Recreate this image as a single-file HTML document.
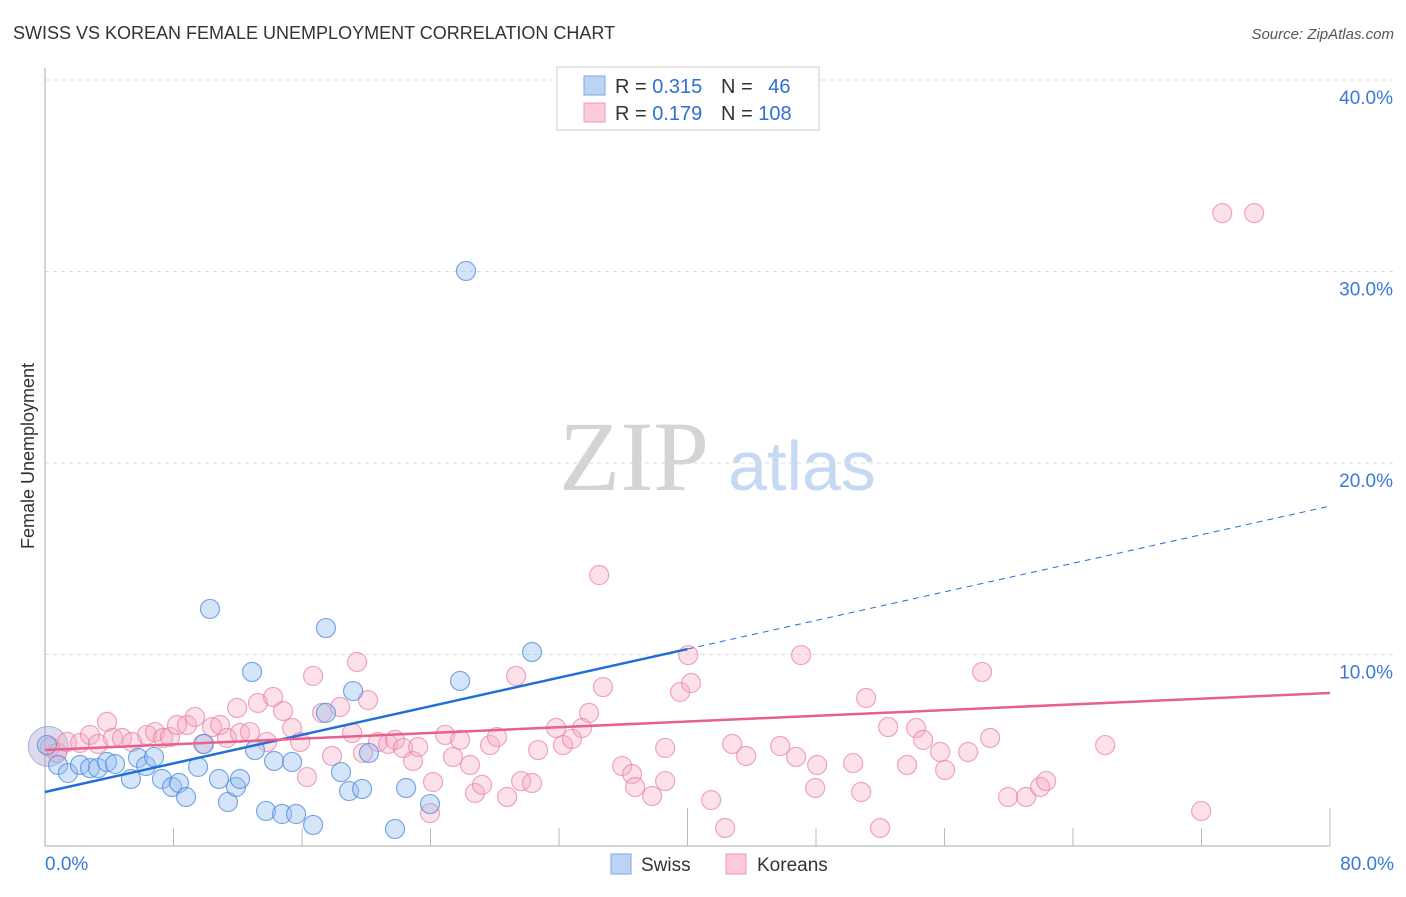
<!DOCTYPE html>
<html><head><meta charset="utf-8"><style>
body{margin:0;background:#fff;font-family:"Liberation Sans",sans-serif}
</style></head><body>
<svg id="chart" width="1406" height="892" font-family="Liberation Sans, sans-serif">
<text x="13" y="39" font-size="18" fill="#333">SWISS VS KOREAN FEMALE UNEMPLOYMENT CORRELATION CHART</text>
<text x="1394" y="39" font-size="15" fill="#555" font-style="italic" text-anchor="end">Source: ZipAtlas.com</text>
<text x="634" y="490" font-size="100" fill="#d4d4d4" style="font-family:'Liberation Serif',serif" text-anchor="middle">ZIP</text>
<text x="802" y="490" font-size="70" fill="#c6d8f2" text-anchor="middle">atlas</text>
<text transform="translate(34,456) rotate(-90)" font-size="18" fill="#333" text-anchor="middle">Female Unemployment</text>
<g id="grid"></g><g id="ticks"></g><g id="pts"></g><g id="lines"></g>
<g>
<rect x="557" y="67" width="262" height="63" fill="#fff" stroke="#ccc"/>
<rect x="584" y="76" width="21" height="19" fill="#bcd4f3" stroke="#7aa7e0"/>
<rect x="584" y="103" width="21" height="19" fill="#fbcbd9" stroke="#eb9ab4"/>
<text x="615" y="93" font-size="20" fill="#333">R = <tspan fill="#2f6fd6">0.315</tspan></text>
<text x="721" y="93" font-size="20" fill="#333">N = <tspan fill="#2f6fd6" dx="10">46</tspan></text>
<text x="615" y="120" font-size="20" fill="#333">R = <tspan fill="#2f6fd6">0.179</tspan></text>
<text x="721" y="120" font-size="20" fill="#333">N = <tspan fill="#2f6fd6">108</tspan></text>
</g>
<g>
<rect x="611" y="854" width="20" height="20" fill="#bcd4f3" stroke="#7aa7e0"/>
<text x="641" y="871" font-size="19" fill="#333">Swiss</text>
<rect x="726" y="854" width="20" height="20" fill="#fbcbd9" stroke="#eb9ab4"/>
<text x="757" y="871" font-size="19" fill="#333">Koreans</text>
</g>
</svg>
<script>
const yTicks=[10,20,30,40];
const yTickLabels=["10.0%","20.0%","30.0%","40.0%"];
const xTickLabels=["0.0%","80.0%"];
const swissX=[0.12,0.81,1.43,2.18,2.80,3.30,3.86,4.36,5.35,5.79,6.29,6.79,7.28,7.91,8.34,8.78,9.53,9.90,10.27,10.83,11.39,11.89,12.14,12.89,13.07,13.76,14.26,14.76,15.38,15.63,16.69,17.49,17.49,18.43,18.93,19.18,19.74,20.17,21.79,22.48,23.97,25.84,26.21,30.32];
const swissY=[5.27,4.23,3.81,4.23,4.07,4.07,4.39,4.28,3.50,4.60,4.18,4.65,3.50,3.08,3.29,2.56,4.13,5.33,12.38,3.50,2.30,3.08,3.50,9.09,5.01,1.83,4.44,1.67,4.39,1.67,1.10,6.95,11.38,3.86,2.87,8.09,2.98,4.86,0.89,3.03,2.19,8.62,30.03,10.13];
const korX=[0.31,0.75,1.37,2.18,2.80,3.30,3.86,4.23,4.79,5.42,6.35,6.85,7.35,7.78,8.22,8.84,9.34,9.84,10.40,10.90,11.33,11.96,12.14,12.76,13.26,13.82,14.20,14.82,15.38,15.88,16.31,16.69,17.25,17.87,18.37,19.12,19.43,19.80,20.11,20.73,21.36,21.79,22.29,22.91,23.23,24.16,23.97,24.91,25.84,25.40,26.46,26.77,27.21,27.71,28.14,28.77,29.33,29.64,30.32,30.70,31.82,32.25,32.81,33.44,33.87,34.50,34.74,35.93,36.55,36.74,37.80,38.61,38.61,39.54,40.04,40.22,41.47,42.34,42.78,43.65,45.77,46.76,47.07,47.95,48.07,50.31,50.81,51.12,51.99,52.49,53.67,54.23,54.67,55.73,56.04,57.47,58.34,58.84,59.96,61.08,61.95,62.33,66.00,71.98,73.29,75.28];
const korY=[5.17,4.86,5.43,5.38,5.80,5.33,6.48,5.64,5.64,5.43,5.80,5.95,5.64,5.69,6.32,6.32,6.74,5.33,6.21,6.32,5.64,7.21,5.90,5.95,7.47,5.43,7.78,7.05,6.16,5.43,3.60,8.88,6.95,4.70,7.26,5.90,9.61,4.86,7.62,5.43,5.33,5.54,5.12,4.44,5.17,3.34,1.72,5.80,5.54,4.65,4.23,2.77,3.19,5.27,5.69,2.56,8.88,3.39,3.29,5.01,6.16,5.27,5.59,6.16,6.95,14.15,8.30,4.18,3.76,3.08,2.61,5.12,3.39,8.04,9.97,8.51,2.40,0.94,5.33,4.70,5.22,4.65,9.97,3.03,4.23,4.33,2.82,7.73,0.94,6.21,4.23,6.16,5.54,4.91,3.97,4.91,9.09,5.64,2.56,2.56,3.08,3.39,5.27,1.83,33.05,33.05];
const swissTrend=[2.82,17.75];
const korTrend=[5.01,7.99];
const NS="http://www.w3.org/2000/svg";
const X=v=>45+v*(1285/80), Y=v=>846-v*19.15;
function mk(t,a,p){const e=document.createElementNS(NS,t);for(const k in a)e.setAttribute(k,a[k]);p.appendChild(e);return e;}
const grid=document.getElementById('grid'),ticks=document.getElementById('ticks'),pts=document.getElementById('pts'),lines=document.getElementById('lines');
yTicks.forEach((v,i)=>{
 const l=mk('line',{x1:45,x2:1394,y1:Y(v),y2:Y(v),stroke:'#ddd','stroke-dasharray':'4,4'},grid);
 
 
 const t=mk('text',{x:1393,y:Y(v)+24,'font-size':19,fill:'#3b78d8','text-anchor':'end'},grid);t.textContent=yTickLabels[i];
 
 
});
const ax=mk('line',{x1:45,x2:45,y1:68,y2:846,stroke:'#aaa'},ticks);


const bx=mk('line',{x1:45,x2:1330,y1:846,y2:846,stroke:'#aaa'},ticks);


for(let i=1;i<=10;i++){const v=i*8;const tl=mk('line',{x1:X(v),x2:X(v),y1:(i%5==0)?808:828,y2:846,stroke:'#bbb'},ticks);
 
 }
[[0,'start',45],[80,'end',1394]].forEach((d,i)=>{const t=mk('text',{x:d[2],y:870,'font-size':19,fill:'#3b78d8','text-anchor':d[1]},ticks);t.textContent=xTickLabels[i];
 
 });
const big=mk('circle',{cx:X(0.2),cy:Y(5.2),r:20,fill:'rgba(160,150,200,0.35)',stroke:'rgba(110,150,220,0.6)'},pts);


korX.forEach((v,i)=>{const c=mk('circle',{cx:X(v),cy:Y(korY[i]),r:9.5,fill:'rgba(246,170,195,0.35)',stroke:'rgba(232,130,165,0.7)','stroke-width':1.2},pts);
 
 });
swissX.forEach((v,i)=>{const c=mk('circle',{cx:X(v),cy:Y(swissY[i]),r:9.5,fill:'rgba(150,190,240,0.4)',stroke:'rgba(80,140,220,0.75)','stroke-width':1.2},pts);
 
 });
const sy=x=>swissTrend[0]+(swissTrend[1]-swissTrend[0])*x/80, ky=x=>korTrend[0]+(korTrend[1]-korTrend[0])*x/80;
const l1=mk('line',{x1:X(0),y1:Y(sy(0)),x2:X(40),y2:Y(sy(40)),stroke:'#1f6fd6','stroke-width':2.5},lines);


const l2=mk('line',{x1:X(40),y1:Y(sy(40)),x2:X(80),y2:Y(sy(80)),stroke:'#1f6fd6','stroke-width':1,'stroke-dasharray':'6,5'},lines);


const l3=mk('line',{x1:X(0),y1:Y(ky(0)),x2:X(80),y2:Y(ky(80)),stroke:'#e8608c','stroke-width':2.5},lines);


</script>
</body></html>
